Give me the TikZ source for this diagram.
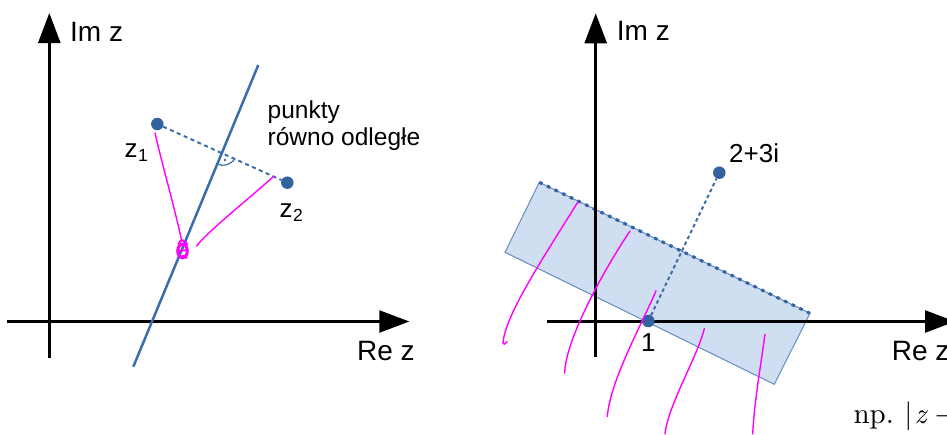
\documentclass[tikz,border=0pt]{standalone}
\usepackage{fontspec}
\usetikzlibrary{arrows.meta}
\newfontfamily\labfont{Liberation Sans}
\newfontfamily\lmfont{lmroman10-regular.otf}[ItalicFont=lmroman10-italic.otf]
\definecolor{lineblue}{RGB}{58,110,170}
\definecolor{dotblue}{RGB}{52,98,160}
\definecolor{bandfill}{RGB}{207,222,240}
\definecolor{bandedge}{RGB}{100,140,195}
\definecolor{scrib}{RGB}{255,0,255}
\begin{document}
\begin{tikzpicture}[x=1pt,y=-1pt,
  axis/.style={line width=2.5pt,-{Triangle[length=30pt,width=22pt]}},
  lab/.style={inner sep=0pt,anchor=base west,font=\labfont\fontsize{28}{32}\selectfont},
  midlab/.style={inner sep=0pt,anchor=base west,font=\labfont\fontsize{26}{30}\selectfont},
  smalllab/.style={inner sep=0pt,anchor=base west,font=\labfont\fontsize{24.5}{28}\selectfont},
  sublab/.style={inner sep=0pt,anchor=base west,font=\labfont\fontsize{17.5}{20}\selectfont},
  ptdot/.style={circle,fill=dotblue,inner sep=0pt,minimum size=12.5pt},
  hand/.style={draw=scrib,line width=1.4pt,line cap=round},
  dashblue/.style={draw=lineblue,line width=2pt,dash pattern=on 4pt off 3.5pt},
]
\useasboundingbox (0,0) rectangle (947,434);

% ---------- left panel ----------
\coordinate (lImB) at (49.3,358);
\coordinate (lImT) at (49.3,13);
\coordinate (lReL) at (7,321.5);
\coordinate (lReR) at (409.3,321.5);
\draw[axis] (lImB) -- (lImT);
\draw[axis] (lReL) -- (lReR);
\node[lab] (lim) at (70,41.7) {Im z};
\node[lab] (lre) at (357,360.5) {Re z};

\coordinate (bl1) at (133.3,366.7);
\coordinate (bl2) at (258.3,65);
\draw[lineblue,line width=2.5pt] (bl1) -- (bl2);

\node[ptdot] (z1) at (157.3,124) {};
\node[ptdot] (z2) at (287.3,182.7) {};
\draw[dashblue] (z1) -- (z2);

\coordinate (ra1) at (218,164);
\coordinate (ra2) at (235,158.5);
\draw[lineblue,line width=1.2pt] (ra1) .. controls (222,167) and (231,165) .. (ra2);
\node[circle,fill=dotblue,inner sep=0pt,minimum size=2.8pt] (radot) at (225,160) {};

\node[midlab] (z1l) at (124.5,157.5) {z};
\node[sublab] (z1s) at (138,161) {1};
\node[midlab] (z2l) at (279.5,217.5) {z};
\node[sublab] (z2s) at (293,221) {2};

\node[smalllab] (pk) at (267.5,118.5) {punkty};
\node[smalllab] (ro) at (267.5,145.5) {równo odległe};

% magenta strokes, left
\coordinate (m1a) at (155,133);
\coordinate (m1b) at (181.5,240);
\draw[hand] (m1a) .. controls (163,168) and (174,205) .. (m1b);
\coordinate (sc) at (182.5,251);
\draw[hand,line width=3pt] (sc) ellipse (4.8 and 6.8);
\draw[hand,line width=2pt] (178,251) -- (187.5,250);
\draw[hand,line width=2pt] (178.5,244) .. controls (180,239) and (186,239) .. (187,245);
\draw[hand,line width=1.6pt] (180,257) .. controls (183,255) and (185,256) .. (187,258);
\coordinate (m3a) at (196.7,246);
\coordinate (m3b) at (273.3,176.7);
\draw[hand] (m3a) .. controls (206,233) and (245,202) .. (m3b);

% ---------- right panel ----------
\coordinate (A) at (539.3,182.3);
\coordinate (B) at (810,313.3);
\coordinate (C) at (774.3,384.3);
\coordinate (D) at (505,252.3);
\filldraw[fill=bandfill,draw=bandedge,line width=1pt] (A) -- (B) -- (C) -- (D) -- cycle;
\draw[dotblue,line width=3pt,dash pattern=on 3.5pt off 5pt,xshift=0.6pt,yshift=1.3pt] (A) -- (B);

\coordinate (rImB) at (595.7,357);
\coordinate (rImT) at (595.7,13.3);
\coordinate (rReL) at (547,321.5);
\coordinate (rReR) at (955,321.5);
\draw[axis] (rImB) -- (rImT);
\draw[axis] (rReL) -- (rReR);
\node[lab] (rim) at (616.7,40.5) {Im z};
\node[lab] (rre) at (891.7,360.5) {Re z};

\node[ptdot] (one) at (648.3,321) {};
\node[ptdot] (p23) at (719.3,172.7) {};
\draw[draw=lineblue,line width=2pt,dash pattern=on 3.5pt off 3pt] (one) -- (p23);
\node[midlab] (p23l) at (729,162.3) {2+3i};
\node[midlab,anchor=base] (onel) at (648.3,351.7) {1};

% magenta strokes, right
\coordinate (h1a) at (577.7,202.3);
\coordinate (h1b) at (503,343);
\coordinate (h1c) at (507,341.5);
\draw[hand] (h1a) .. controls (545,255) and (505,315) .. (h1b) .. controls (503,345.5) and (505,344) .. (h1c);
\coordinate (h2a) at (630,231);
\coordinate (h2b) at (564.7,373.3);
\draw[hand] (h2a) .. controls (605,268) and (565,340) .. (h2b);
\coordinate (h3a) at (656,290.7);
\coordinate (h3b) at (607.3,416.7);
\draw[hand] (h3a) .. controls (645,318) and (610,380) .. (h3b);
\coordinate (h4a) at (704.3,328.7);
\coordinate (h4b) at (665,434);
\draw[hand] (h4a) .. controls (697,358) and (668,405) .. (h4b);
\coordinate (h5a) at (765,334.3);
\coordinate (h5b) at (752.7,434);
\draw[hand] (h5a) .. controls (760,370) and (754,405) .. (h5b);

\node[inner sep=0pt,anchor=base west,font=\lmfont\fontsize{29}{32}\selectfont] (np) at (853.3,423.3) {np.\ \kern1pt|\kern2pt\textit{z}\kern7pt−};
\end{tikzpicture}
\end{document}
